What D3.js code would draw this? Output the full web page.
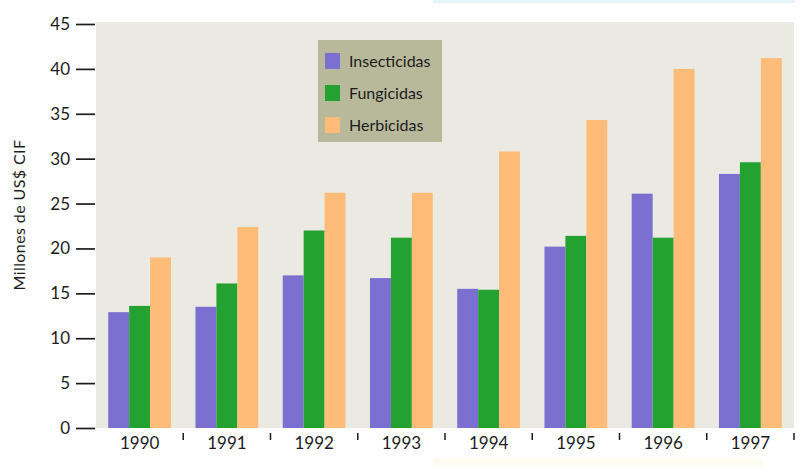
<!DOCTYPE html>
<html>
<head>
<meta charset="utf-8">
<script src="https://cdn.jsdelivr.net/npm/d3@7"></script>
<style>
  html, body { margin: 0; padding: 0; background: #ffffff; }
  svg { display: block; }
  text { font-family: Lato, "Open Sans", sans-serif; fill: #1c1c1c; }
</style>
</head>
<body>
<svg id="chart" width="801" height="467"></svg>
<script>
// Pesticide imports by year (millions of US$ CIF)
const years = ["1990", "1991", "1992", "1993", "1994", "1995", "1996", "1997"];
const seriesNames = ["Insecticidas", "Fungicidas", "Herbicidas"];
const insecticidas = [12.9, 13.5, 17.0, 16.7, 15.5, 20.2, 26.1, 28.3];
const fungicidas   = [13.6, 16.1, 22.0, 21.2, 15.4, 21.4, 21.2, 29.6];
const herbicidas   = [19.0, 22.4, 26.2, 26.2, 30.8, 34.3, 40.0, 41.2];
const yTicks = [0, 5, 10, 15, 20, 25, 30, 35, 40, 45];
const colors = ["#7b6fd0", "#23a232", "#ffbb78"];

const seriesValues = [insecticidas, fungicidas, herbicidas];

const svg = d3.select("#chart");
const plot = { left: 96, right: 794, top: 22, bottom: 428 };
const fontStack = "Lato, 'Open Sans', sans-serif";

// faint strips along the page edges
svg.append("rect").attr("x", 433).attr("y", 0).attr("width", 362).attr("height", 3)
  .attr("fill", "#e6f3f9");
svg.append("rect").attr("x", 433).attr("y", 458).attr("width", 330).attr("height", 9)
  .attr("fill", "#fcfcf2");

const y = d3.scaleLinear().domain([0, 45]).range([plot.bottom, plot.top + 2]);
const x0 = d3.scaleBand().domain(years).range([plot.left, plot.right])
  .paddingInner(0.28).paddingOuter(0.14);
const x1 = d3.scaleBand().domain(seriesNames).range([0, x0.bandwidth()]);
const color = d3.scaleOrdinal().domain(seriesNames).range(colors);

// plot background
svg.append("rect")
  .attr("x", plot.left).attr("y", plot.top)
  .attr("width", plot.right - plot.left).attr("height", plot.bottom - plot.top)
  .attr("fill", "#ebeae2");

// bars
const groups = svg.append("g").selectAll("g")
  .data(years)
  .join("g")
  .attr("transform", d => `translate(${x0(d)},0)`);

groups.selectAll("rect")
  .data((d, i) => seriesNames.map((s, k) => ({ series: s, value: seriesValues[k][i] })))
  .join("rect")
  .attr("x", d => x1(d.series))
  .attr("y", d => y(d.value))
  .attr("width", x1.bandwidth())
  .attr("height", d => y(0) - y(d.value))
  .attr("fill", d => color(d.series));

// y axis: ticks drawn as short dashes left of the plot area
const yAxis = d3.axisLeft(y).tickValues(yTicks).tickSize(19).tickPadding(6);
const gy = svg.append("g").attr("transform", `translate(${plot.left - 1},0)`).call(yAxis);
gy.select(".domain").remove();
gy.selectAll(".tick line").attr("stroke", "#1c1c1c").attr("stroke-width", 1.7);
gy.selectAll(".tick text").style("font-size", "17px").attr("fill", "#1c1c1c")
  .style("font-family", fontStack);

// x axis: year labels centred under each group, separators between groups
const gx = svg.append("g").attr("transform", `translate(0,${plot.bottom})`)
  .call(d3.axisBottom(x0).tickSize(0).tickPadding(9));
gx.select(".domain").remove();
gx.selectAll(".tick text").style("font-size", "17px").attr("fill", "#1c1c1c")
  .style("font-family", fontStack);

const step = x0.step();
svg.append("g").selectAll("line")
  .data(years)
  .join("line")
  .attr("x1", d => x0(d) + x0.bandwidth() + step * x0.paddingInner() / 2)
  .attr("x2", d => x0(d) + x0.bandwidth() + step * x0.paddingInner() / 2)
  .attr("y1", plot.bottom + 5).attr("y2", plot.bottom + 12)
  .attr("stroke", "#1c1c1c").attr("stroke-width", 1.5);

// y axis title
svg.append("text")
  .attr("transform", "translate(25,215) rotate(-90)")
  .attr("text-anchor", "middle")
  .style("font-size", "16px")
  .style("letter-spacing", "0.4px")
  .text("Millones de US$ CIF");

// legend
const legend = svg.append("g").attr("transform", "translate(318,40)");
legend.append("rect").attr("width", 124).attr("height", 102).attr("fill", "#b7b99a");
const items = legend.selectAll("g.item")
  .data(seriesNames)
  .join("g")
  .attr("class", "item")
  .attr("transform", (d, i) => `translate(7,${13 + i * 32})`);
items.append("rect").attr("width", 15).attr("height", 16).attr("fill", d => color(d));
items.append("text").attr("x", 24).attr("y", 14)
  .style("font-size", "16px")
  .text(d => d);
</script>
</body>
</html>
